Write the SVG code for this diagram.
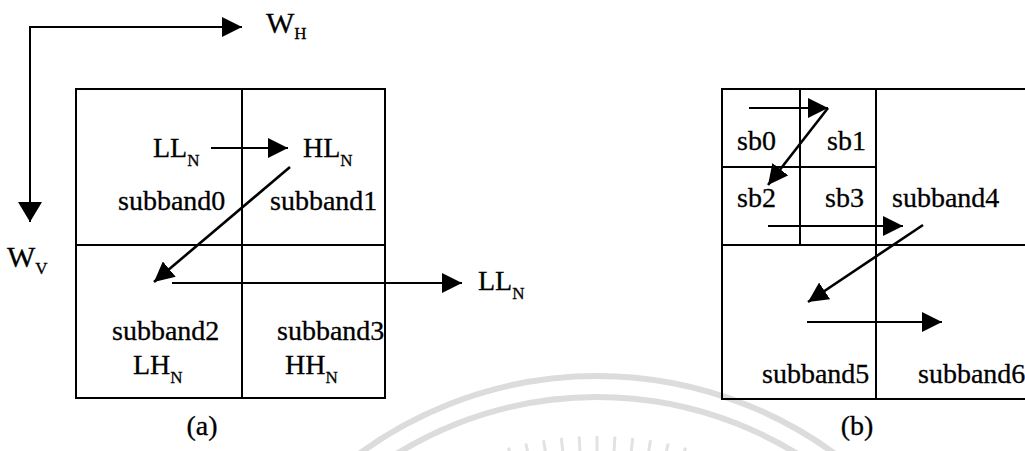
<svg xmlns="http://www.w3.org/2000/svg" width="1025" height="451" viewBox="0 0 1025 451">
<style>
text{font-family:"Liberation Serif","Times New Roman",serif;font-size:28px;fill:#000;stroke:#000;stroke-width:0.3}
.sub{font-size:17px}
.big{font-size:30px}
.grid{fill:none;stroke:#000;stroke-width:2}
.conn{stroke:#000;stroke-width:2;fill:none}
.diag{stroke-width:2.6}
.wm{fill:none;stroke:#dcdcdc;stroke-width:6}
.ray{stroke:#e2e2e2;stroke-width:3}
</style>
<defs>
<marker id="ah" viewBox="0 0 20 20" refX="20" refY="10" markerWidth="20" markerHeight="20" markerUnits="userSpaceOnUse" orient="auto">
<path d="M0,0 L20,10 L0,20 z" fill="#000"/>
</marker>
<marker id="ahv" viewBox="0 0 20 24" refX="20" refY="12" markerWidth="20" markerHeight="24" markerUnits="userSpaceOnUse" orient="auto">
<path d="M0,0 L20,12 L0,24 z" fill="#000"/>
</marker>
</defs>
<rect width="1025" height="451" fill="#fff"/>
<g id="watermark">
<circle class="wm" cx="597" cy="778" r="402"/>
<circle class="wm" cx="597" cy="778" r="381"/>
<line class="ray" x1="508.5" y1="447.7" x2="514.2" y2="468.9"/>
<line class="ray" x1="525.9" y1="443.5" x2="530.5" y2="465"/>
<line class="ray" x1="543.5" y1="440.2" x2="547" y2="462"/>
<line class="ray" x1="561.3" y1="437.9" x2="563.6" y2="459.8"/>
<line class="ray" x1="579.1" y1="436.5" x2="580.3" y2="458.4"/>
<line class="ray" x1="597" y1="436" x2="597" y2="458"/>
<line class="ray" x1="614.9" y1="436.5" x2="613.7" y2="458.4"/>
<line class="ray" x1="632.7" y1="437.9" x2="630.4" y2="459.8"/>
<line class="ray" x1="650.5" y1="440.2" x2="647" y2="462"/>
<line class="ray" x1="668.1" y1="443.5" x2="663.5" y2="465"/>
<line class="ray" x1="685.5" y1="447.7" x2="679.8" y2="468.9"/>
</g>
<g id="panel-a-grid">
<rect class="grid" x="76" y="89" width="309" height="309"/>
<line class="grid" x1="242" y1="89" x2="242" y2="398"/>
<line class="grid" x1="76" y1="245" x2="385" y2="245"/>
</g>
<g id="subband0"><text x="153" y="157">LL<tspan class="sub" dy="9">N</tspan></text><text x="118" y="210">subband0</text></g>
<g id="subband1"><text x="303" y="157">HL<tspan class="sub" dy="9">N</tspan></text><text x="270" y="210">subband1</text></g>
<g id="subband2"><text x="112" y="340">subband2</text><text x="133" y="374">LH<tspan class="sub" dy="9">N</tspan></text></g>
<g id="subband3"><text x="277" y="340">subband3</text><text x="285" y="374">HH<tspan class="sub" dy="9">N</tspan></text></g>
<g id="axis-h"><text class="big" x="266" y="33">W<tspan class="sub" dy="6">H</tspan></text></g>
<g id="axis-v"><text class="big" x="7" y="267">W<tspan class="sub" dy="7">V</tspan></text></g>
<g id="out-ll"><text x="478" y="290">LL<tspan class="sub" dy="9">N</tspan></text></g>
<g id="label-a"><text x="202" y="435" text-anchor="middle">(a)</text></g>
<g id="panel-b-grid">
<rect class="grid" x="722" y="89" width="310" height="310"/>
<line class="grid" x1="800" y1="89" x2="800" y2="245"/>
<line class="grid" x1="722" y1="167" x2="876" y2="167"/>
<line class="grid" x1="876" y1="89" x2="876" y2="399"/>
<line class="grid" x1="722" y1="245" x2="1032" y2="245"/>
</g>
<g id="sb0"><text x="737" y="150">sb0</text></g>
<g id="sb1"><text x="827" y="150">sb1</text></g>
<g id="sb2"><text x="737" y="207">sb2</text></g>
<g id="sb3"><text x="825" y="207">sb3</text></g>
<g id="subband4"><text x="892" y="207">subband4</text></g>
<g id="subband5"><text x="762" y="383">subband5</text></g>
<g id="subband6"><text x="918" y="383">subband6</text></g>
<g id="label-b"><text x="857" y="435" text-anchor="middle">(b)</text></g>
<g id="connectors">
<path class="conn" d="M30,222 L30,27 L242,27" marker-end="url(#ah)"/>
<path class="conn" d="M30,27 L30,222" marker-end="url(#ahv)"/>
<line class="conn" x1="211" y1="148" x2="288" y2="148" marker-end="url(#ah)"/>
<line class="conn diag" x1="290" y1="167" x2="154" y2="282" marker-end="url(#ah)"/>
<line class="conn" x1="172" y1="283" x2="462" y2="283" marker-end="url(#ah)"/>
<line class="conn" x1="749" y1="108" x2="828" y2="108" marker-end="url(#ah)"/>
<line class="conn diag" x1="828" y1="108" x2="768" y2="185" marker-end="url(#ah)"/>
<line class="conn" x1="768" y1="226" x2="903" y2="226" marker-end="url(#ah)"/>
<line class="conn diag" x1="923" y1="225" x2="808" y2="302" marker-end="url(#ah)"/>
<line class="conn" x1="807" y1="322" x2="942" y2="322" marker-end="url(#ah)"/>
</g>
</svg>
